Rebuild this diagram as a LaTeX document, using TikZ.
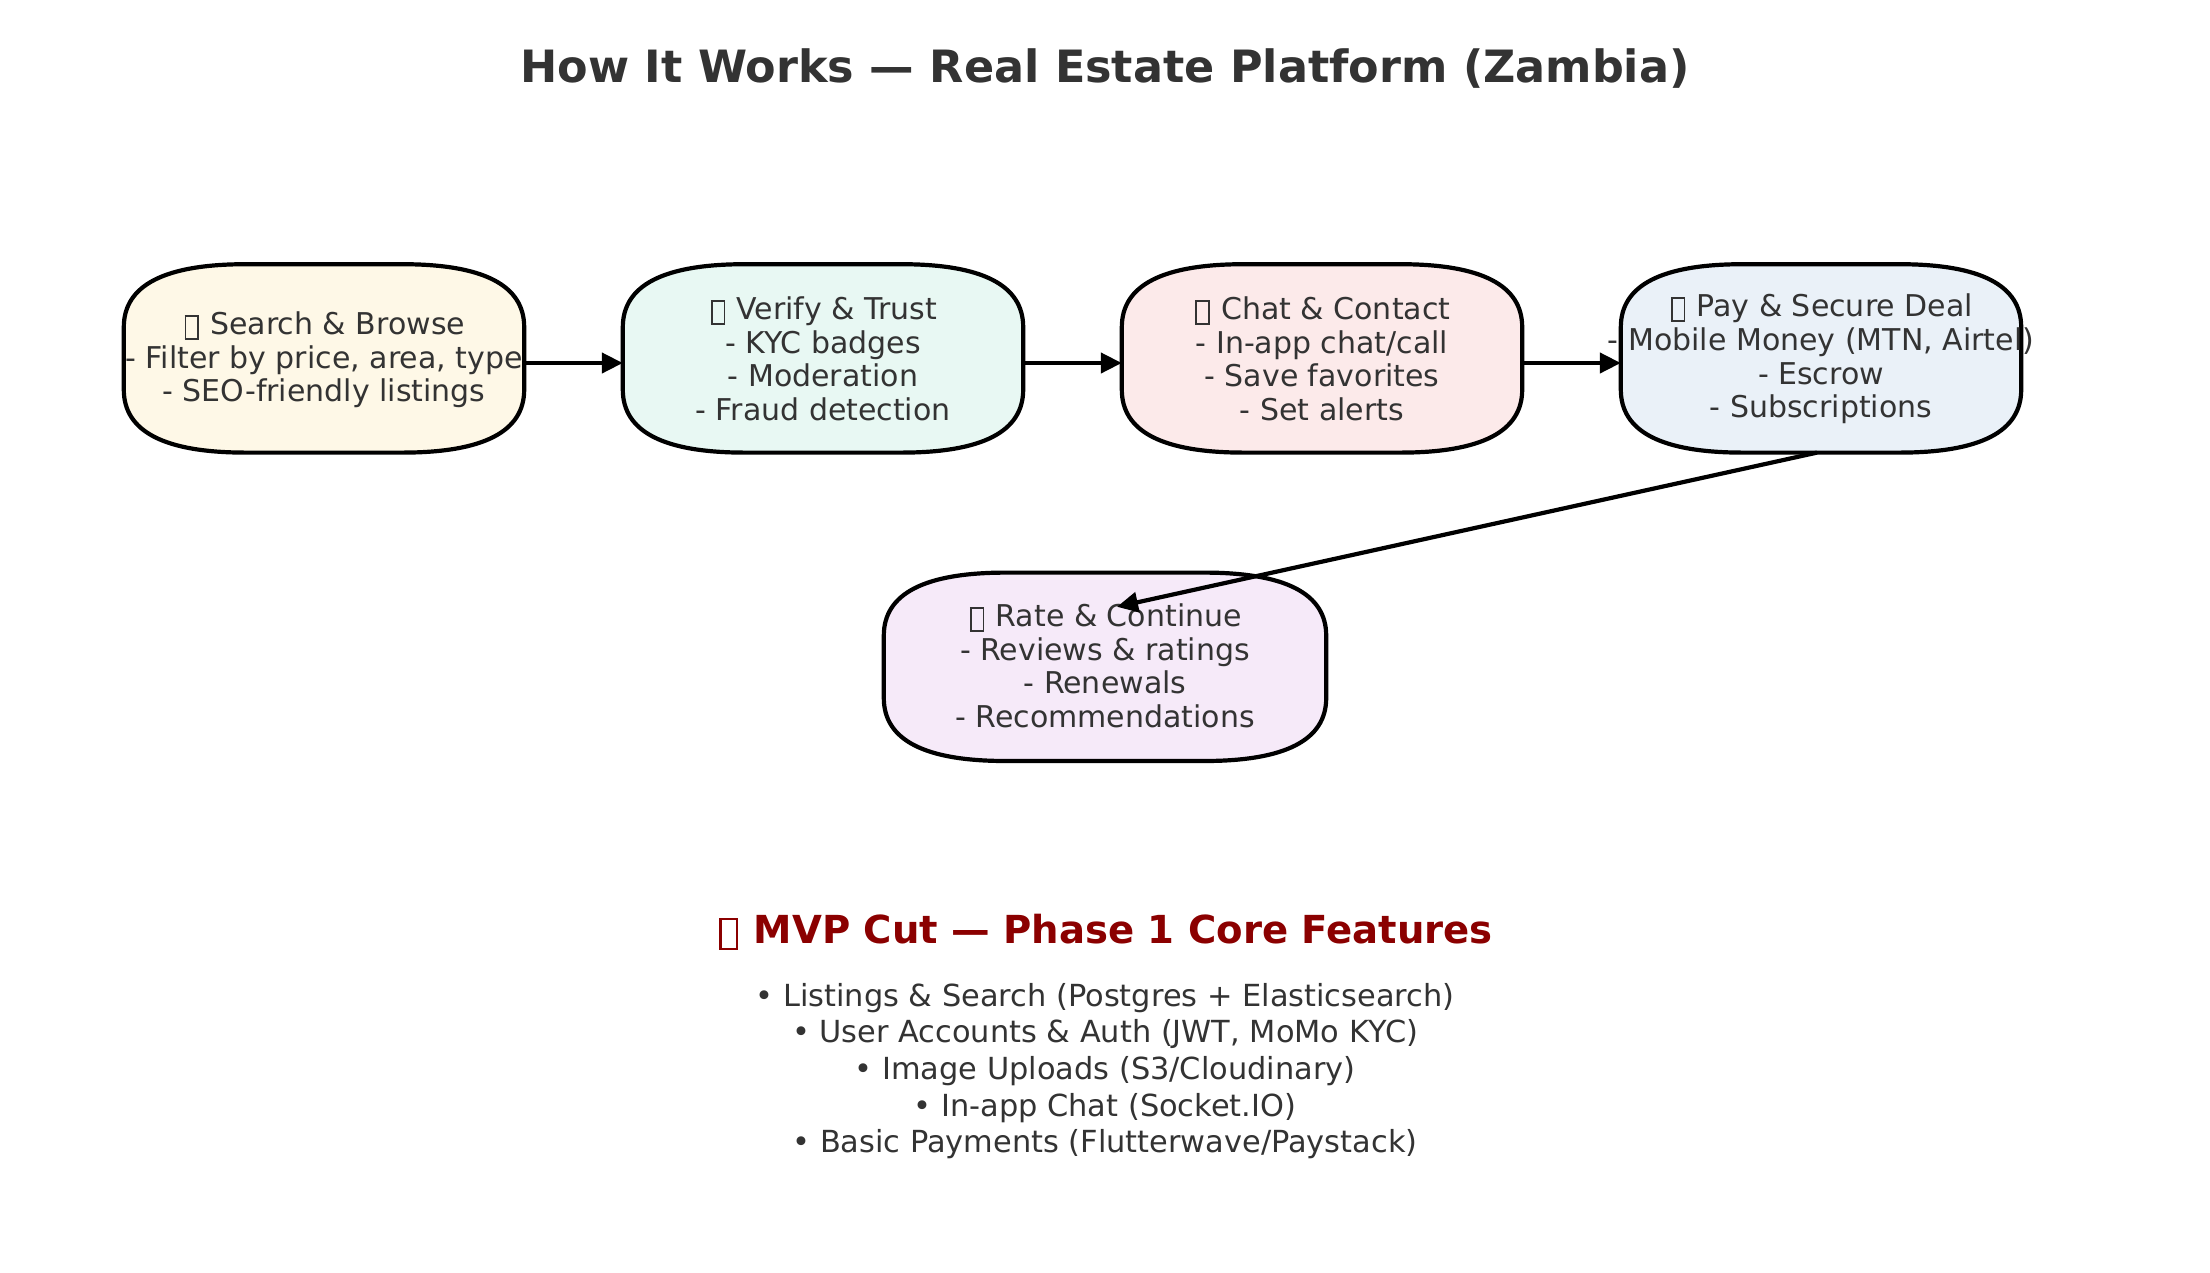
\documentclass[tikz,border=0pt]{standalone}
\usepackage{fontspec}
\setmainfont{DejaVu Sans}
\usetikzlibrary{arrows.meta}

\definecolor{ink}{HTML}{333333}
\definecolor{mvpred}{HTML}{8B0000}
\definecolor{fillsearch}{HTML}{FEF8E7}
\definecolor{filltrust}{HTML}{E8F8F3}
\definecolor{fillchat}{HTML}{FCEAEA}
\definecolor{fillpay}{HTML}{EAF1F8}
\definecolor{fillrate}{HTML}{F6EAF9}

% placeholder glyph box shown in front of each heading
\newcommand{\tofu}{\kern0.06em\raisebox{-0.13em}{\setlength{\fboxsep}{0pt}\setlength{\fboxrule}{0.055em}\fbox{\rule{0pt}{0.72em}\hspace{0.37em}}}\kern0.06em}

% corner sizes of the pill outline (quadratic corners written as cubics)
\def\rx{122}
\def\ry{63}
\def\cx{40.7}
\def\cy{21}

% pill outline around an (empty) node
\newcommand{\pill}[2]{%
  \path[pillline, fill=#2]
    ([shift={(\rx,0)}]#1.north west) -- ([shift={(-\rx,0)}]#1.north east)
    .. controls ([shift={(-\cx,0)}]#1.north east) and ([shift={(0,\cy)}]#1.north east)
    .. ([shift={(0,\ry)}]#1.north east)
    -- ([shift={(0,-\ry)}]#1.south east)
    .. controls ([shift={(0,-\cy)}]#1.south east) and ([shift={(-\cx,0)}]#1.south east)
    .. ([shift={(-\rx,0)}]#1.south east)
    -- ([shift={(\rx,0)}]#1.south west)
    .. controls ([shift={(\cx,0)}]#1.south west) and ([shift={(0,-\cy)}]#1.south west)
    .. ([shift={(0,-\ry)}]#1.south west)
    -- ([shift={(0,\ry)}]#1.north west)
    .. controls ([shift={(0,\cy)}]#1.north west) and ([shift={(\cx,0)}]#1.north west)
    .. ([shift={(\rx,0)}]#1.north west)
    -- cycle;
}

\tikzset{
  stagebox/.style={draw=none, inner sep=0pt, minimum height=188pt},
  pillline/.style={draw=black, line width=4.2pt, line join=round},
  stagetext/.style={text=ink, align=center, inner sep=0pt,
    font=\fontsize{30}{33.8}\selectfont},
  titletext/.style={text=ink, inner sep=0pt,
    font=\fontsize{44.5}{54}\selectfont\bfseries},
  mvphead/.style={text=mvpred, inner sep=0pt,
    font=\fontsize{38.6}{46}\selectfont\bfseries},
  featlist/.style={text=ink, align=center, inner sep=0pt,
    font=\fontsize{30.4}{36.6}\selectfont},
  flow/.style={draw=black, line width=4.2pt,
    -{Triangle[length=21pt,width=20pt]}},
}

\begin{document}
\begin{tikzpicture}[x=1pt, y=-1pt]
  \fill[white] (0,0) rectangle (2210,1272);
  \useasboundingbox (0,0) rectangle (2210,1272);

  % title
  \node[titletext, anchor=base] (title) at (1105,82)
    {How It Works — Real Estate Platform (Zambia)};

  % stage frames
  \node[stagebox, minimum width=400pt] (b1) at (324,358.4) {};
  \node[stagebox, minimum width=400pt] (b2) at (823,358.4) {};
  \node[stagebox, minimum width=400pt] (b3) at (1322,358.4) {};
  \node[stagebox, minimum width=400pt] (b4) at (1821,358.4) {};
  \node[stagebox, minimum width=442pt] (b5) at (1105,666.8) {};

  \pill{b1}{fillsearch}
  \pill{b2}{filltrust}
  \pill{b3}{fillchat}
  \pill{b4}{fillpay}
  \pill{b5}{fillrate}

  % stage texts
  \node[stagetext] (b1t) at ([shift={(0,1.5)}]b1.center) {\tofu{} Search \& Browse\\- Filter by price, area, type\\- SEO-friendly listings};
  \node[stagetext] (b2t) at ([shift={(0,0.5)}]b2.center) {\tofu{} Verify \& Trust\\- KYC badges\\- Moderation\\- Fraud detection};
  \node[stagetext] (b3t) at ([shift={(0,0.5)}]b3.center) {\tofu{} Chat \& Contact\\- In-app chat/call\\- Save favorites\\- Set alerts};
  \node[stagetext] (b4t) at ([shift={(0,0.5)}]b4.center) {\tofu{} Pay \& Secure Deal\\- Mobile Money (MTN, Airtel)\\- Escrow\\- Subscriptions};
  \node[stagetext] (b5t) at ([shift={(0,-1)}]b5.center) {\tofu{} Rate \& Continue\\- Reviews \& ratings\\- Renewals\\- Recommendations};

  % flow connectors
  \draw[flow] ([shift={(0,4.6)}]b1.east) -- ([shift={(0,4.6)}]b2.west);
  \draw[flow] ([shift={(0,4.6)}]b2.east) -- ([shift={(0,4.6)}]b3.west);
  \draw[flow] ([shift={(0,4.6)}]b3.east) -- ([shift={(0,4.6)}]b4.west);
  \coordinate (b4out) at ([shift={(-4,0)}]b4.south);
  \coordinate (b5in) at ([shift={(12,-60)}]b5.center);
  \draw[flow] (b4out) -- (b5in);

  % MVP section
  \node[mvphead, anchor=base] (mvp) at (1105,943)
    {\tofu{} MVP Cut — Phase 1 Core Features};
  \node[featlist] (feat) at (1105,1071)
    {• Listings \& Search (Postgres + Elasticsearch)\\
     • User Accounts \& Auth (JWT, MoMo KYC)\\
     • Image Uploads (S3/Cloudinary)\\
     • In-app Chat (Socket.IO)\\
     • Basic Payments (Flutterwave/Paystack)};
\end{tikzpicture}
\end{document}
